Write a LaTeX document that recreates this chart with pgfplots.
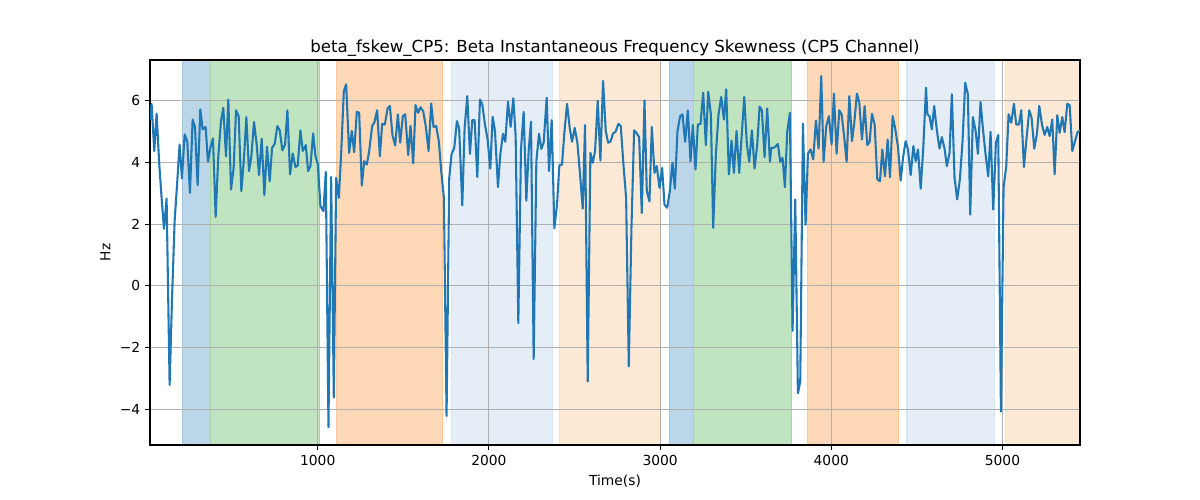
\documentclass[border=0pt]{standalone}
\usepackage{pgfplots}
\pgfplotsset{compat=1.18}
\usepackage{fontspec}
\setmainfont{DejaVu Sans}
\definecolor{tabblue}{RGB}{31,119,180}
\definecolor{spanblue}{RGB}{188,214,233}
\definecolor{spangreen}{RGB}{192,227,192}
\definecolor{spanorange}{RGB}{255,216,183}
\definecolor{lightblue}{RGB}{229,237,246}
\definecolor{lightorange}{RGB}{254,233,214}
\definecolor{edgeblue}{RGB}{160,198,225}
\definecolor{edgegreen}{RGB}{165,213,165}
\definecolor{edgeorange}{RGB}{255,200,152}
\definecolor{edgelightblue}{RGB}{215,228,241}
\definecolor{edgelightorange}{RGB}{254,222,193}
\definecolor{gridgray}{RGB}{176,176,176}

\pgfplotstableread{
x y
19.6 5.39
29.3 5.90
44.9 4.37
58.6 5.58
74.2 3.93
87.8 2.85
101.5 1.85
117 2.83
134.6 -3.21
148.2 -0.50
163.8 2.09
179.4 3.39
193 4.58
206.7 3.48
222.3 4.91
237.9 4.67
253.5 3.01
269 5.39
282.7 5.15
298.3 3.26
313.9 5.72
327.5 5.07
345 5.15
358.7 4.02
374.3 4.52
388 4.78
403.5 2.23
419.1 4.20
434.7 5.34
448.4 5.77
464 4.20
477.6 6.04
493.2 3.12
508.8 3.82
522.4 5.69
538 5.50
553.6 3.07
569.2 4.15
582.9 5.47
598.4 3.72
612.1 4.20
627.7 5.31
643.3 4.58
656.9 3.59
672.5 4.77
688.1 2.94
703.7 4.51
719.3 3.39
732.9 4.47
748.5 4.60
764.1 5.18
777.8 5.04
793.3 4.39
809 4.58
822.6 5.69
838.2 3.61
853.8 4.29
869.4 3.85
883 3.90
898.6 5.04
912.2 4.37
930 4.56
943.7 3.72
957.3 3.88
972.9 4.94
986.6 4.20
1000.2 3.95
1015.8 2.58
1033.3 2.42
1047 3.69
1062.6 -4.58
1078.2 3.53
1093.8 -3.62
1107.4 3.50
1123 2.85
1136.6 4.26
1152.2 6.31
1165.9 6.53
1183.4 4.31
1199 5.02
1212.6 4.33
1228.2 5.64
1241.9 5.61
1257.5 3.25
1271.1 4.04
1286.7 3.93
1300.4 4.37
1317.9 5.18
1331.5 5.31
1347.1 5.69
1362.7 4.20
1376.4 5.25
1392 5.23
1407.6 5.75
1421.2 5.83
1436.8 4.87
1452.4 4.55
1468 5.56
1481.6 4.64
1497.2 5.50
1510.9 5.56
1528.4 4.24
1542 5.18
1557.6 3.97
1571.3 5.86
1586.9 5.61
1600.5 5.79
1616.1 5.66
1631.7 5.15
1647.3 4.37
1662.9 5.91
1676.5 5.15
1692.1 5.18
1707.7 4.67
1721.3 3.72
1736.9 2.85
1752.5 -4.22
1768.1 3.50
1781.8 4.28
1797.4 4.47
1813 5.34
1826 5.10
1844.3 2.61
1858 5.12
1873.5 6.15
1889.1 4.28
1902.8 5.37
1916.4 5.37
1932 3.53
1947.6 6.04
1961.2 5.88
1976.8 5.23
1992.4 4.74
2008 3.80
2021.7 5.48
2035.3 5.02
2052.8 3.20
2066.5 4.26
2082.1 4.93
2095.7 4.67
2111.3 5.97
2126.9 5.15
2142.5 6.08
2156.1 4.85
2171.7 -1.21
2187.3 4.42
2202.9 5.64
2218.5 2.76
2232.1 4.37
2245.8 5.32
2261.4 -2.37
2277 4.04
2292.6 4.93
2306.2 4.44
2319.8 4.64
2337.4 6.10
2351 3.72
2366.6 5.37
2382.2 1.86
2397.8 2.63
2411.5 3.91
2427 3.93
2440.7 4.96
2456.3 5.90
2471.9 5.12
2485.5 4.67
2501.1 5.12
2516.7 4.64
2532.3 3.61
2547.9 2.50
2561.5 5.21
2577.1 -3.10
2592.7 4.31
2606.4 3.99
2620 4.37
2635.6 5.99
2651.2 4.06
2666.8 6.64
2682.4 5.02
2696 4.64
2709.6 4.67
2725.2 4.94
2740 5.00
2756.6 5.25
2770.2 5.18
2785.8 3.93
2801.4 2.85
2817 -2.61
2832.6 1.88
2848.2 5.04
2861.8 4.96
2877.4 4.82
2893 2.36
2908.6 6.01
2922.3 3.07
2937.8 2.74
2951.5 5.15
2967.1 3.66
2980.7 3.88
2996.3 3.18
3011.9 3.82
3025.6 2.63
3041.1 2.53
3056.7 3.07
3072.3 3.99
3086 3.15
3101.6 5.02
3117.2 5.50
3130.8 5.56
3146.4 4.67
3162 5.69
3177.6 4.04
3191.2 5.21
3206.8 3.77
3220.5 5.23
3236 5.25
3251.6 6.26
3267.2 4.56
3280.9 6.29
3296.5 5.56
3310.1 1.88
3325.7 4.26
3341.3 5.56
3356.9 6.12
3372.5 5.39
3386.1 6.37
3401.7 3.61
3417.3 4.71
3431 3.66
3446.5 5.02
3462.1 3.66
3475.8 4.80
3491.4 6.12
3507 4.58
3520.6 4.02
3536.2 5.04
3551.8 3.80
3567.4 4.58
3581 5.81
3594.7 5.69
3610.3 4.17
3625.8 5.75
3641.4 4.02
3649.2 4.47
3662.7 4.47
3676.4 4.53
3688.1 4.60
3701.7 4.02
3715.4 4.15
3729 3.20
3742.7 4.99
3758.2 5.61
3773.8 -1.46
3789.4 2.80
3805 -3.48
3818.7 -3.10
3834.3 5.26
3849.8 1.98
3863.5 4.28
3879.1 4.42
3894.7 4.10
3910.3 5.36
3925.9 4.45
3941.5 6.80
3955.1 4.02
3970.7 5.18
3986.3 5.50
4001.9 4.58
4015.5 6.23
4031.1 4.28
4046.7 5.69
4060.3 5.56
4075.9 4.80
4089.6 4.02
4105.2 6.15
4120.8 4.69
4134.4 5.29
4150 6.23
4163.6 5.94
4179.2 4.74
4194.8 5.83
4210.4 4.56
4224 4.67
4237.7 5.58
4253.3 5.23
4268.9 3.45
4284.5 3.39
4298.1 4.42
4313.7 3.55
4329.3 4.74
4343 3.52
4358.5 5.50
4374.1 5.07
4389.7 4.50
4405.3 3.41
4419 4.15
4434.5 4.69
4448.2 4.42
4463.8 3.59
4479.4 4.53
4493 4.04
4506.7 4.42
4522.3 3.15
4537.9 4.53
4553.4 6.42
4561.2 5.56
4573.8 5.50
4587.5 5.07
4601.1 5.83
4616.7 5.04
4632.3 4.45
4646 4.82
4661.6 4.45
4675.2 3.88
4690.8 4.31
4704.4 6.21
4720 3.50
4735.6 2.80
4751.2 3.45
4766.8 4.69
4782.4 6.58
4798 6.21
4811.6 2.31
4827.2 5.47
4842.8 5.04
4856.5 4.28
4872 5.96
4885.7 5.10
4901.3 4.26
4916.9 3.55
4930.5 4.99
4946.1 2.47
4961.7 4.64
4975.3 4.89
4991 -4.08
5006.5 3.18
5022.1 3.88
5035.8 5.56
5051.4 5.29
5067 5.90
5080.6 5.23
5096.2 5.23
5109.8 5.69
5125.4 3.85
5141 4.80
5156.6 5.69
5170.2 5.45
5185.8 4.45
5201.4 4.93
5215.1 5.83
5230.7 5.23
5246.3 4.89
5261.8 5.15
5275.5 4.85
5291.1 5.39
5304.7 3.61
5320.3 5.53
5334 4.96
5349.5 5.47
5363.2 4.98
5378.8 5.90
5392.4 5.86
5408 4.37
5423.6 4.69
5439.2 4.99
5452.8 5.02
}\datatable

\begin{document}
\begin{tikzpicture}
\begin{axis}[
  set layers=standard,
  at={(0,0)}, anchor=south west,
  scale only axis, width=9.3in, height=3.85in,
  xmin=20, xmax=5453, ymin=-5.16, ymax=7.32,
  xtick={1000,2000,3000,4000,5000},
  xticklabels={1000,2000,3000,4000,5000},
  ytick={-4,-2,0,2,4,6},
  yticklabels={−4,−2,0,2,4,6},
  grid=major,
  grid style={gridgray, line width=0.8pt},
  axis line style={line width=0.8pt},
  tick align=outside, major tick length=3.5pt,
  tick style={black, line width=0.8pt},
  xtick pos=bottom, ytick pos=left,
  tick label style={font=\fontsize{10}{12}\selectfont},
  title={beta\_fskew\_CP5: Beta Instantaneous Frequency Skewness (CP5 Channel)},
  title style={font=\fontsize{12}{14}\selectfont, yshift=-7pt},
  xlabel={Time(s)}, ylabel={Hz},
  label style={font=\fontsize{10}{12}\selectfont},
]
\addplot[on layer=axis background, fill=spanblue, draw=edgeblue, line width=0.8pt] coordinates {(208.7,-5.16) (374.4,-5.16) (374.4,7.32) (208.7,7.32)} -- cycle;
\addplot[on layer=axis background, fill=spangreen, draw=edgegreen, line width=0.8pt] coordinates {(374.4,-5.16) (1008,-5.16) (1008,7.32) (374.4,7.32)} -- cycle;
\addplot[on layer=axis background, fill=spanorange, draw=edgeorange, line width=0.8pt] coordinates {(1109.4,-5.16) (1727,-5.16) (1727,7.32) (1109.4,7.32)} -- cycle;
\addplot[on layer=axis background, fill=lightblue, draw=edgelightblue, line width=0.8pt] coordinates {(1781.8,-5.16) (2370.5,-5.16) (2370.5,7.32) (1781.8,7.32)} -- cycle;
\addplot[on layer=axis background, fill=lightorange, draw=edgelightorange, line width=0.8pt] coordinates {(2413.4,-5.16) (3000.2,-5.16) (3000.2,7.32) (2413.4,7.32)} -- cycle;
\addplot[on layer=axis background, fill=spanblue, draw=edgeblue, line width=0.8pt] coordinates {(3056.7,-5.16) (3193.2,-5.16) (3193.2,7.32) (3056.7,7.32)} -- cycle;
\addplot[on layer=axis background, fill=spangreen, draw=edgegreen, line width=0.8pt] coordinates {(3193.2,-5.16) (3770,-5.16) (3770,7.32) (3193.2,7.32)} -- cycle;
\addplot[on layer=axis background, fill=spanorange, draw=edgeorange, line width=0.8pt] coordinates {(3863.5,-5.16) (4393.6,-5.16) (4393.6,7.32) (3863.5,7.32)} -- cycle;
\addplot[on layer=axis background, fill=lightblue, draw=edgelightblue, line width=0.8pt] coordinates {(4442.3,-5.16) (4952,-5.16) (4952,7.32) (4442.3,7.32)} -- cycle;
\addplot[on layer=axis background, fill=lightorange, draw=edgelightorange, line width=0.8pt] coordinates {(5018,-5.16) (5453,-5.16) (5453,7.32) (5018,7.32)} -- cycle;
\addplot[tabblue, line width=1.5pt, line join=round, mark=none] table[x=x,y=y] {\datatable};
\end{axis}
\path (-1.5in,-0.55in) rectangle (10.5in,4.45in);
\end{tikzpicture}
\end{document}
